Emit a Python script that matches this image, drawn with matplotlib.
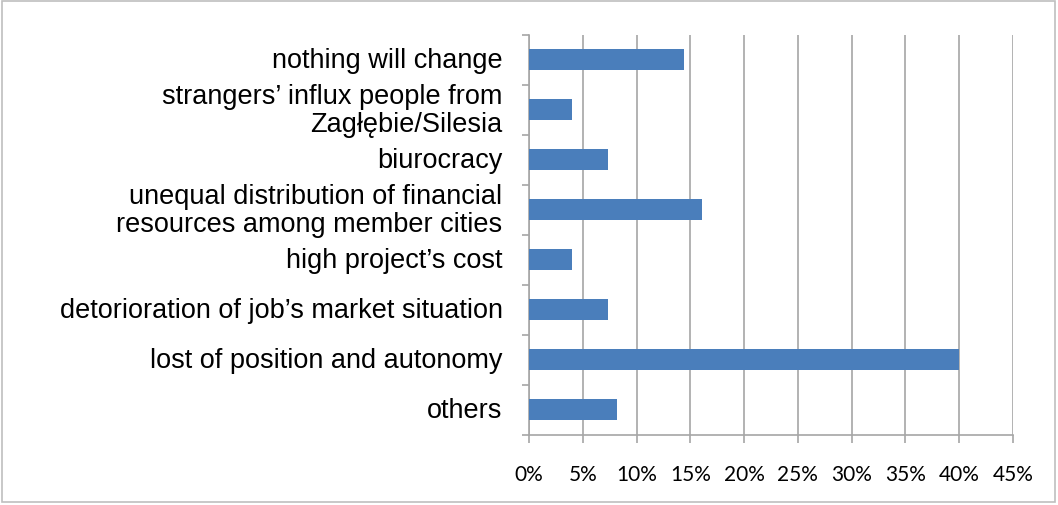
import matplotlib.pyplot as plt
import matplotlib.transforms as mtransforms
import numpy as np
from matplotlib.patches import Rectangle
from matplotlib.ticker import FuncFormatter

# answers, top to bottom
categories = [
    "nothing will change",
    "strangers\u2019 influx people from\nZag\u0142\u0119bie/Silesia",
    "biurocracy",
    "unequal distribution of financial\nresources among member cities",
    "high project\u2019s cost",
    "detorioration of job\u2019s market situation",
    "lost of position and autonomy",
    "others",
]
shares = [14.4, 4.0, 7.3, 16.1, 4.0, 7.3, 40.0, 8.2]
xticks = [0, 5, 10, 15, 20, 25, 30, 35, 40, 45]

grid_col = "#A6A6A6"
bar_col = "#4A7EBB"

fig = plt.figure(figsize=(10.58, 5.06), dpi=100)
ax = fig.add_axes([0.5, 0.139, 0.4575, 0.79])

y = np.arange(len(categories))
ax.barh(y, shares, height=0.42, color=bar_col, zorder=3)

ax.set_xlim(0, 45)
ax.set_ylim(len(categories) - 0.5, -0.5)

# vertical grid
ax.set_xticks(xticks)
ax.xaxis.set_major_formatter(FuncFormatter(lambda v, p: f"{v:.0f}%"))
ax.grid(axis="x", color=grid_col, linewidth=1.2, zorder=0)
ax.set_axisbelow(True)

# category labels, tick marks between categories
ax.set_yticks(y)
ax.set_yticklabels(categories, fontsize=19.5, family="Liberation Sans",
                   ha="right", va="center", multialignment="right",
                   linespacing=1.08)
lift = mtransforms.ScaledTranslation(0, 4 / 100, fig.dpi_scale_trans)
for lab in ax.get_yticklabels():
    lab.set_transform(lab.get_transform() + lift)
ax.set_yticks(np.arange(-0.5, len(categories)), minor=True)
ax.tick_params(axis="y", which="major", length=0, pad=19)
ax.tick_params(axis="y", which="minor", length=5, color=grid_col, width=1.2)

ax.tick_params(axis="x", length=6, color=grid_col, width=1.2, pad=15)
for lab in ax.get_xticklabels():
    lab.set_family("Lato")
    lab.set_fontsize(15)

for s in ["top", "right"]:
    ax.spines[s].set_visible(False)
for s in ["left", "bottom"]:
    ax.spines[s].set_color(grid_col)
    ax.spines[s].set_linewidth(1.2)

# frame around the chart area
fig.patches.append(Rectangle((0.002, 0.006), 0.995, 0.99, transform=fig.transFigure,
                             fill=False, edgecolor="#BFBFBF", linewidth=1.2))

fig.savefig("out.png", dpi=100)
